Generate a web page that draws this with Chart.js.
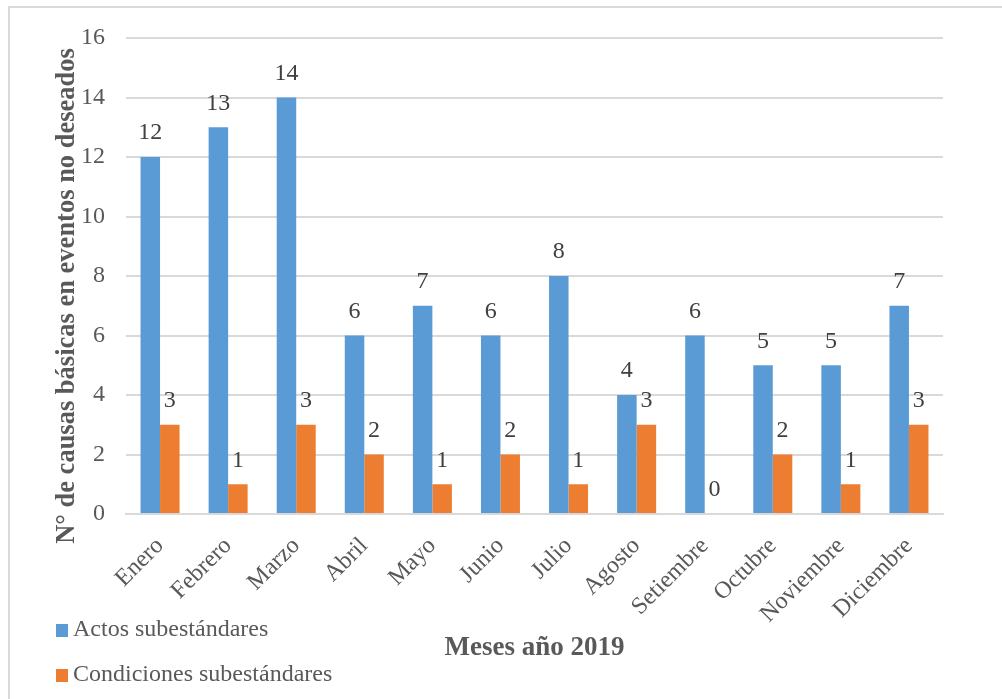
<!DOCTYPE html>
<html lang="es">
<head>
<meta charset="utf-8">
<title>Causas básicas 2019</title>
<script src="https://cdn.jsdelivr.net/npm/chart.js@4/dist/chart.umd.min.js"></script>
<style>
  html, body { margin: 0; padding: 0; background: #fff; }
  #wrap { position: relative; width: 1002px; height: 699px; overflow: hidden; }
  #frame {
    position: absolute; left: 8px; top: 6px; width: 1100px; height: 800px;
    border-left: 2px solid #d9d9d9; border-top: 2px solid #d9d9d9;
  }
  #chart { position: absolute; left: 0; top: 0; }
</style>
</head>
<body>
<div id="wrap">
  <div id="frame"></div>
  <canvas id="chart" width="1002" height="699"></canvas>
</div>
<script>
// Months and counts per type of basic cause
const months = ['Enero', 'Febrero', 'Marzo', 'Abril', 'Mayo', 'Junio', 'Julio',
  'Agosto', 'Setiembre', 'Octubre', 'Noviembre', 'Diciembre'];
const actos = [12, 13, 14, 6, 7, 6, 8, 4, 6, 5, 5, 7];
const condiciones = [3, 1, 3, 2, 1, 2, 1, 3, 0, 2, 1, 3];
const yTicks = [0, 2, 4, 6, 8, 10, 12, 14, 16];
const yTitle = 'N° de causas básicas en eventos no deseados';

const FONT = "'Liberation Serif', 'Times New Roman', serif";
const TEXT = '#595959';

// value labels over each bar
const barLabels = {
  id: 'barLabels',
  afterDatasetsDraw(chart) {
    const ctx = chart.ctx;
    ctx.save();
    ctx.font = '24px ' + FONT;
    ctx.fillStyle = '#404040';
    ctx.textAlign = 'center';
    ctx.textBaseline = 'middle';
    chart.data.datasets.forEach((ds, i) => {
      chart.getDatasetMeta(i).data.forEach((bar, j) => {
        ctx.fillText(String(ds.data[j]), bar.x, bar.y - 24);
      });
    });
    ctx.restore();
  }
};

// legend stacked in the bottom-left corner, plus the vertical axis title
const sideText = {
  id: 'sideText',
  afterDraw(chart) {
    const ctx = chart.ctx;
    ctx.save();
    ctx.font = '24px ' + FONT;
    ctx.textBaseline = 'middle';
    chart.data.datasets.forEach((ds, i) => {
      const y = 630 + i * 45;
      ctx.fillStyle = ds.backgroundColor;
      ctx.fillRect(56, y - 6, 12, 13);
      ctx.fillStyle = TEXT;
      ctx.fillText(ds.label, 73, y);
    });

    ctx.translate(67, 296);
    ctx.rotate(-Math.PI / 2);
    ctx.font = 'bold 26.5px ' + FONT;
    ctx.textAlign = 'center';
    ctx.fillText(yTitle, 0, 0);
    ctx.restore();
  }
};

new Chart(document.getElementById('chart'), {
  type: 'bar',
  data: {
    labels: months,
    datasets: [
      { label: 'Actos subestándares', data: actos, backgroundColor: '#5b9bd5' },
      { label: 'Condiciones subestándares', data: condiciones, backgroundColor: '#ed7d31' }
    ]
  },
  options: {
    responsive: false,
    animation: false,
    devicePixelRatio: 1,
    categoryPercentage: 0.573,
    barPercentage: 1,
    layout: { padding: { top: 38, right: 59, bottom: 0, left: 0 } },
    plugins: { legend: { display: false }, tooltip: { enabled: false } },
    scales: {
      x: {
        grid: { display: false },
        border: { color: '#d9d9d9', width: 2 },
        ticks: {
          color: TEXT, font: { family: FONT, size: 24 },
          minRotation: 45, maxRotation: 45, padding: 10
        },
        title: {
          display: true, text: 'Meses año 2019', color: TEXT,
          font: { family: FONT, size: 27, weight: 'bold' },
          padding: { top: 0, bottom: 35 }
        },
        afterFit(scale) { scale.height = 185; }
      },
      y: {
        min: 0, max: 16,
        afterBuildTicks(scale) { scale.ticks = yTicks.map(v => ({ value: v })); },
        grid: { color: '#d9d9d9', lineWidth: 2, drawTicks: false },
        border: { display: false },
        ticks: { color: TEXT, font: { family: FONT, size: 24 }, padding: 21 },
        title: { display: false },
        afterFit(scale) { scale.width = 126; }
      }
    }
  },
  plugins: [barLabels, sideText]
});
</script>
</body>
</html>
